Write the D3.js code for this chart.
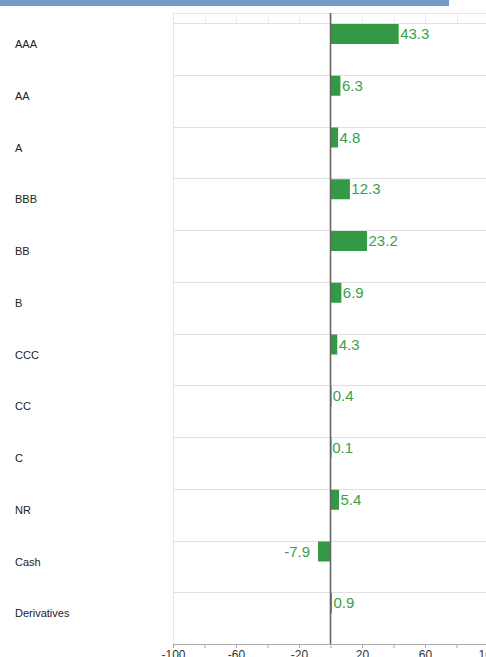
<!DOCTYPE html>
<html><head><meta charset="utf-8">
<script src="https://cdn.jsdelivr.net/npm/d3@7"></script>
<style>html,body{margin:0;padding:0;background:#fff;overflow:hidden}svg{display:block}</style>
</head><body>
<script>
const categories = ["AAA","AA","A","BBB","BB","B","CCC","CC","C","NR","Cash","Derivatives"];
const values = [43.3,6.3,4.8,12.3,23.2,6.9,4.3,0.4,0.1,5.4,-7.9,0.9];
const tickValues = [-100,-80,-60,-40,-20,0,20,40,60,80,100];
const tickLabels = ["-100","","-60","","-20","","20","","60","","100"];

const W = 486, H = 657;
const svg = d3.select("body").append("svg").attr("width", W).attr("height", H)
  .style("font-family", "'Liberation Sans', Arial, sans-serif");

svg.append("rect").attr("x",0).attr("y",0).attr("width",449).attr("height",6).attr("fill","#7399c6");

const x = d3.scaleLinear().domain([-100,100]).range([173,488]);
const y = d3.scaleBand().domain(categories).range([23,644]);
const plotTop = 13, plotBottom = 644;

// top strip
svg.append("line").attr("x1",173).attr("x2",W).attr("y1",plotTop+0.5).attr("y2",plotTop+0.5).attr("stroke","#e6e6e6");
svg.selectAll("line.vt").data(tickValues).join("line").attr("class","vt")
  .attr("x1",d=>Math.round(x(d))+0.5).attr("x2",d=>Math.round(x(d))+0.5)
  .attr("y1",plotTop).attr("y2",23).attr("stroke","#ececec");
// left border
svg.append("line").attr("x1",173.5).attr("x2",173.5).attr("y1",plotTop).attr("y2",plotBottom).attr("stroke","#e6e6e6");
// horizontal grid
svg.selectAll("line.hg").data(categories).join("line").attr("class","hg")
  .attr("x1",173).attr("x2",W).attr("y1",d=>Math.round(y(d))+0.5).attr("y2",d=>Math.round(y(d))+0.5)
  .attr("stroke","#e0e0e0");

// bars
svg.selectAll("rect.bar").data(values).join("rect").attr("class","bar")
  .attr("x",d=>Math.min(x(0),x(d))).attr("width",d=>Math.max(1,Math.abs(x(d)-x(0))))
  .attr("y",(d,i)=>y(categories[i])+1).attr("height",20).attr("fill","#339944");

// value labels
svg.selectAll("text.val").data(values).join("text").attr("class","val")
  .attr("x",d=>d>=0?x(d)+1.5:x(d)-8)
  .attr("y",(d,i)=>y(categories[i])+16)
  .attr("text-anchor",d=>d>=0?"start":"end")
  .attr("font-size",15).attr("fill","#3a9f4a")
  .text(d=>d.toFixed(1));

// category labels
svg.selectAll("text.cat").data(categories).join("text").attr("class","cat")
  .attr("x",15).attr("y",d=>y(d)+25).attr("font-size",11).attr("fill","#222").text(d=>d);

// zero line
svg.append("line").attr("x1",x(0)).attr("x2",x(0)).attr("y1",plotTop).attr("y2",plotBottom)
  .attr("stroke","#666").attr("stroke-width",1.6);

// bottom axis
const ax = svg.append("g").attr("transform",`translate(0,${plotBottom})`)
  .call(d3.axisBottom(x).tickValues(tickValues).tickSize(4).tickPadding(2)
    .tickFormat((d,i)=>tickLabels[i]));
ax.select(".domain").attr("stroke","#aaa");
ax.selectAll(".tick line").attr("stroke","#aaa");
ax.selectAll(".tick text").attr("font-size",12).attr("fill","#333")
  .attr("font-family","'Liberation Sans', Arial, sans-serif");
</script>
</body></html>
